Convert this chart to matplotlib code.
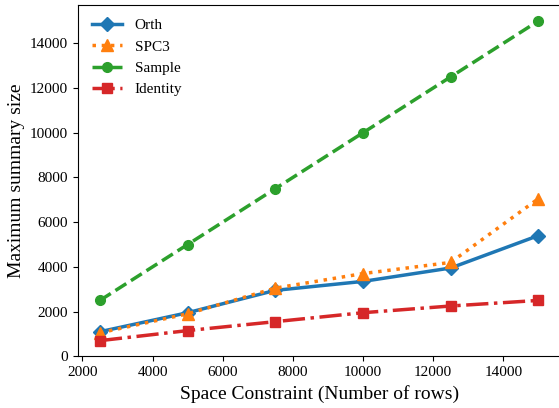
import matplotlib
matplotlib.use("Agg")
import matplotlib.pyplot as plt

plt.rcParams['font.family'] = ['Liberation Serif', 'DejaVu Serif']

space = [2500, 5000, 7500, 10000, 12500, 15000]
orth = [1100, 1950, 2950, 3350, 3950, 5400]
spc3 = [1050, 1900, 3050, 3700, 4200, 7050]
sample = [2500, 5000, 7500, 10000, 12500, 15000]
identity = [700, 1150, 1550, 1950, 2250, 2500]

fig = plt.figure(figsize=(5.59, 4.08), dpi=100)
# right edge of the axes sits just past the image border, like the cropped original
ax = fig.add_axes([78 / 559, 51.7 / 408, 483.5 / 559, 351.3 / 408])

ax.plot(space, orth, '-', marker='D', color='#1f77b4', lw=2.5, ms=7, label='Orth')
ax.plot(space, spc3, ':', marker='^', color='#ff7f0e', lw=2.5, ms=8, label='SPC3')
ax.plot(space, sample, '--', marker='o', color='#2ca02c', lw=2.5, ms=7, label='Sample')
ax.plot(space, identity, '-.', marker='s', color='#d62728', lw=2.5, ms=7, label='Identity')

ax.set_ylim(0, 15715)
ax.set_xlim(1875, 15660)
ax.set_xlabel('Space Constraint (Number of rows)', fontsize=14)
ax.set_ylabel('Maximum summary size', fontsize=14)
ax.tick_params(labelsize=11)
ax.legend(loc='upper left', frameon=False, fontsize=11)

fig.savefig('out.png', dpi=100)
